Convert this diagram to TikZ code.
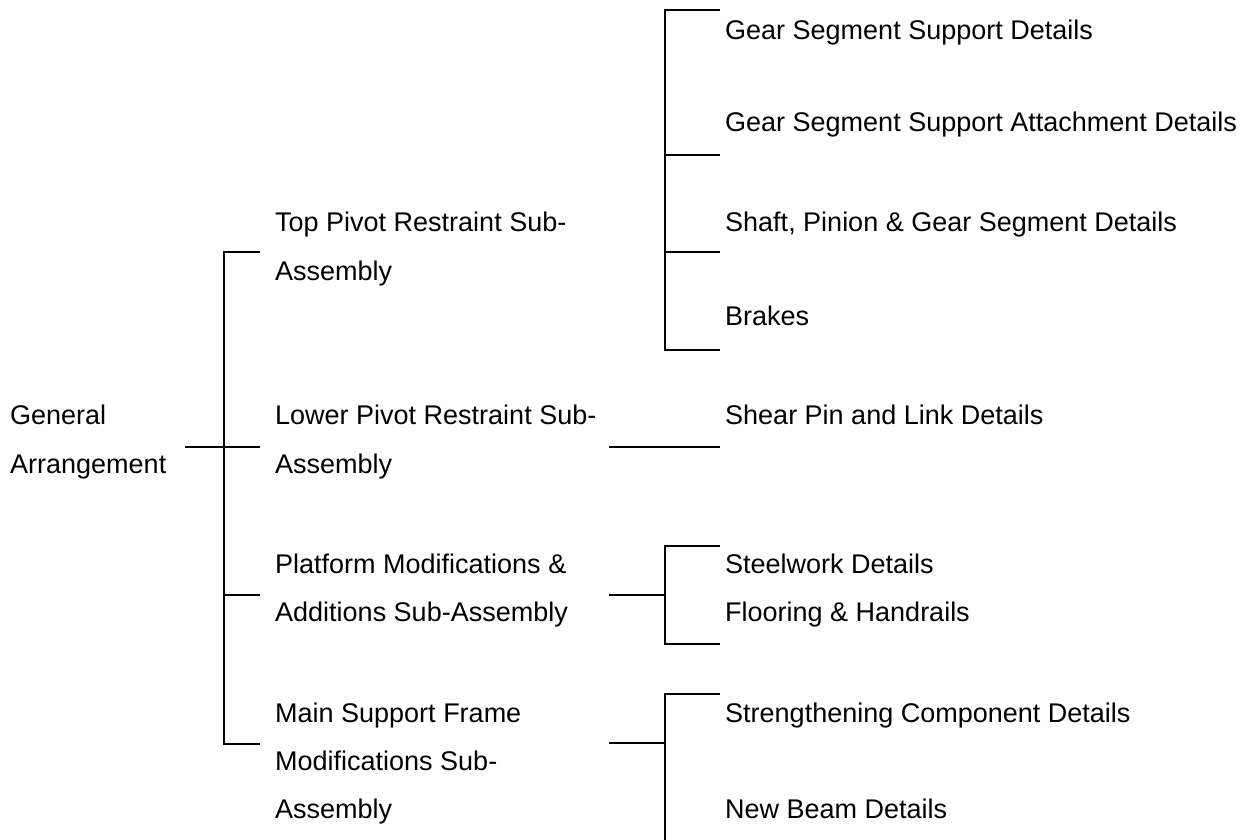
\documentclass[tikz,border=0pt]{standalone}
\usepackage{fontspec}
\setmainfont{Liberation Sans}
\begin{document}
\begin{tikzpicture}[x=1pt,y=-1pt,
  lbl/.style={anchor=base west,inner sep=0pt,font=\fontsize{27}{32}\selectfont},
  ln/.style={line width=2pt,line cap=rect}]
\useasboundingbox (0,0) rectangle (1247,839);
% left column
\node[lbl] (ga1) at (10,424) {General};
\node[lbl] (ga2) at (10,473) {Arrangement};
% middle column
\node[lbl] (tp1) at (275,231) {Top Pivot Restraint Sub-};
\node[lbl] (tp2) at (275,280) {Assembly};
\node[lbl] (lp1) at (275,424) {Lower Pivot Restraint Sub-};
\node[lbl] (lp2) at (275,473) {Assembly};
\node[lbl] (pm1) at (275,573) {Platform Modifications \&};
\node[lbl] (pm2) at (275,621) {Additions Sub-Assembly};
\node[lbl] (ms1) at (275,722) {Main Support Frame};
\node[lbl] (ms2) at (275,770) {Modifications Sub-};
\node[lbl] (ms3) at (275,818) {Assembly};
% right column
\node[lbl] (r1) at (725,39) {Gear Segment Support Details};
\node[lbl] (r2) at (725,131) {Gear Segment Support Attachment Details};
\node[lbl] (r3) at (725,231) {Shaft, Pinion \& Gear Segment Details};
\node[lbl] (r4) at (725,325) {Brakes};
\node[lbl] (r5) at (725,424) {Shear Pin and Link Details};
\node[lbl] (r6) at (725,573) {Steelwork Details};
\node[lbl] (r7) at (725,621) {Flooring \& Handrails};
\node[lbl] (r8) at (725,722) {Strengthening Component Details};
\node[lbl] (r9) at (725,818) {New Beam Details};
% coordinates
\coordinate (gaR) at (186,447);
\coordinate (b1t) at (224,252);
\coordinate (b1m) at (224,447);
\coordinate (b1p) at (224,595);
\coordinate (b1b) at (224,744);
\coordinate (t1) at (259,252);
\coordinate (t2) at (259,447);
\coordinate (t3) at (259,595);
\coordinate (t4) at (259,744);
% left bracket
\draw[ln] (t1) -- (b1t) -- (b1b) -- (t4);
\draw[ln] (gaR) -- (t2);
\draw[ln] (b1p) -- (t3);
% top right bracket
\coordinate (g1t) at (665,10);
\coordinate (g1a) at (665,155);
\coordinate (g1b) at (665,252);
\coordinate (g1c) at (665,350);
\draw[ln] (719,10) -- (g1t) -- (g1c) -- (719,350);
\draw[ln] (g1a) -- (719,155);
\draw[ln] (g1b) -- (719,252);
% lower pivot
\coordinate (lpL) at (610,447);
\coordinate (lpR) at (719,447);
\draw[ln] (lpL) -- (lpR);
% platform bracket
\coordinate (pL) at (610,595);
\coordinate (pM) at (665,595);
\draw[ln] (719,546) -- (665,546) -- (665,644) -- (719,644);
\draw[ln] (pL) -- (pM);
% main support bracket
\coordinate (mL) at (610,743);
\coordinate (mM) at (665,743);
\draw[ln] (719,694) -- (665,694) -- (665,845);
\draw[ln] (mL) -- (mM);
\end{tikzpicture}
\end{document}
